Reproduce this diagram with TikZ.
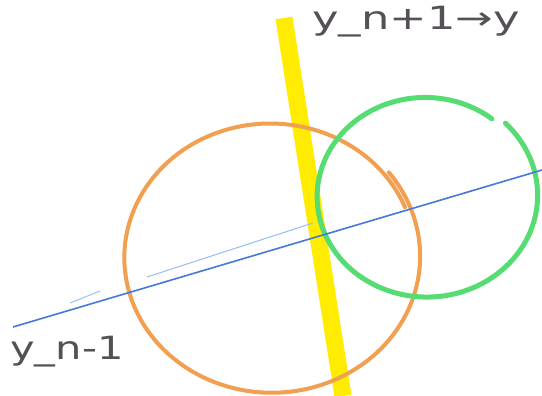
\documentclass[tikz,border=0pt]{standalone}
\usepackage{fontspec}
\setmainfont{DejaVu Sans}
\definecolor{hlyellow}{RGB}{255,236,0}
\definecolor{penorange}{RGB}{240,160,80}
\definecolor{pengreen}{RGB}{85,220,115}
\definecolor{penblue}{RGB}{70,120,215}
\definecolor{penfaint}{RGB}{150,190,240}
\definecolor{penink}{RGB}{85,80,85}
\begin{document}
\begin{tikzpicture}[x=1pt,y=-1pt,
  hand/.style={text=penink, font=\fontsize{32}{34}\selectfont, inner sep=0pt, anchor=west}]
\useasboundingbox (0,0) rectangle (542,396);
\fill[white] (0,0) rectangle (542,396);
% yellow band
\coordinate (ytop) at (284,18);
\coordinate (ybot) at (343,396);
\draw[hlyellow, line width=17pt] (ytop) -- (ybot);
% orange circle (overlapping ends at upper right)
\draw[penorange, line width=4pt, line cap=round] plot[smooth, domain=-38:338, samples=120]
  ({271+146*(1.025-0.035*(\x+38)/376)*cos(\x)}, {257+134*(1.025-0.035*(\x+38)/376)*sin(\x)});
% green circle (open at top right)
\draw[pengreen, line width=5pt, line cap=round] plot[smooth, domain=-45:308, samples=120]
  ({426+108*(1.04-0.05*(\x+45)/353)*cos(\x)}, {196+99*(1.04-0.05*(\x+45)/353)*sin(\x)});
% blue line
\coordinate (bl) at (13,327);
\coordinate (br) at (542,170);
\draw[penblue, line width=1.6pt] (bl) -- (br);
\coordinate (fa) at (70,303);
\coordinate (fb) at (100,291);
\coordinate (fc) at (147,277);
\coordinate (fd) at (313,223);
\draw[penfaint, line width=1pt] (fa) -- (fb);
\draw[penfaint, line width=1pt] (fc) -- (fd);
% labels
\node[hand, xscale=1.4] (top) at (312,22) {y\_n+1→y};
\node[hand, xscale=1.3] (bot) at (10,352) {y\_n-1};
\end{tikzpicture}
\end{document}
